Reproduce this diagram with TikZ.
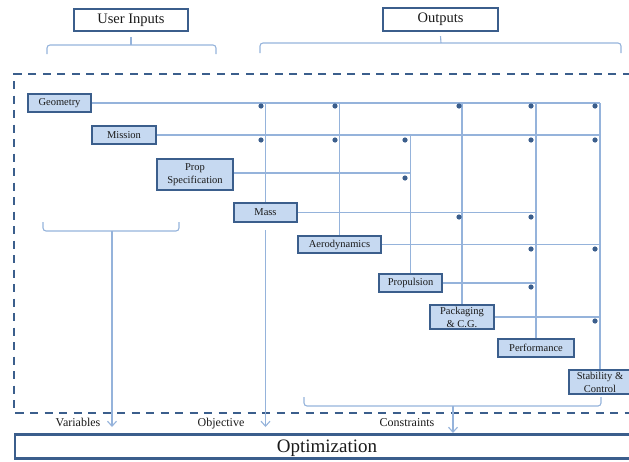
\documentclass[tikz,border=0pt]{standalone}
\usepackage{fontspec}
\setmainfont{Liberation Serif}
\usetikzlibrary{arrows.meta}
\definecolor{bdr}{HTML}{3B5E8C}
\definecolor{fillc}{HTML}{C6D9F1}
\definecolor{lnc}{HTML}{95B3DB}
\definecolor{dotc}{HTML}{3B5E8C}
\definecolor{txt}{HTML}{1A1A1A}
\begin{document}
\begin{tikzpicture}[x=1pt,y=-1pt,
  blk/.style={draw=bdr, fill=fillc, line width=2.1pt, inner sep=0pt, align=center, text=txt, font=\fontsize{10.5}{13}\selectfont},
  ttl/.style={draw=bdr, fill=white, line width=2.1pt, inner sep=0pt, text=txt, font=\fontsize{14.5}{16}\selectfont},
  conn/.style={draw=lnc, line width=1.1pt},
  brk/.style={draw=lnc, line width=1.1pt, rounded corners=3pt},
  arr/.style={conn, -{Straight Barb[length=5pt,width=9pt]}},
  lbl/.style={text=txt, font=\fontsize{12}{14}\selectfont, inner sep=0pt, anchor=base},
  dashbox/.style={draw=bdr, line width=2pt, dash pattern=on 8pt off 6.5pt}]
\useasboundingbox (0,0) rectangle (629,461);
\clip (0,0) rectangle (629,461);

% title boxes
\node[ttl, minimum width=114pt, minimum height=22pt] (ui) at (131,20) {User Inputs};
\node[ttl, minimum width=115pt, minimum height=23pt] (out) at (440.5,19.5) {Outputs};

% top brackets
\draw[brk] (47,54) -- (47,45) -- (216,45) -- (216,54);
\coordinate (uib) at (131,45);
\draw[conn] (uib) -- ([yshift=-5pt]ui.south);
\draw[brk] (260,53) -- (260,43) -- (621,43) -- (621,53);
\coordinate (outb) at (441,43);
\draw[conn] (outb) -- ([yshift=-4pt]out.south);

% dashed frame
\draw[dashbox] (645,74) -- (14,74) -- (14,413) -- (645,413);

% discipline boxes
\node[blk, minimum width=63pt, minimum height=18pt] (geo) at (59.5,103) {Geometry};
\node[blk, minimum width=64pt, minimum height=18pt] (mis) at (124,135) {Mission};
\node[blk, minimum width=76pt, minimum height=31pt] (prop) at (195,174.5) {Prop\\Specification};
\node[blk, minimum width=63pt, minimum height=19pt] (mass) at (265.5,212.5) {Mass};
\node[blk, minimum width=83pt, minimum height=17pt] (aero) at (339.5,244.5) {Aerodynamics};
\node[blk, minimum width=63pt, minimum height=18pt] (propu) at (410.5,283) {Propulsion};
\node[blk, minimum width=64pt, minimum height=24pt] (pack) at (462,317) {Packaging\\\& C.G.};
\node[blk, minimum width=76pt, minimum height=18pt] (perf) at (536,348) {Performance};
\node[blk, minimum width=62pt, minimum height=24pt] (stab) at (600,382) {Stability \&\\Control};

% rows
\draw[conn] (geo.east) -- (geo.east -| stab.north);
\draw[conn] (mis.east) -- (mis.east -| stab.north);
\draw[conn] ([yshift=1.5pt]prop.east) -- ([yshift=1.5pt]prop.east -| propu.north);
\draw[conn] (mass.east) -- (mass.east -| perf.north);
\draw[conn] (aero.east) -- (aero.east -| stab.north);
\draw[conn] (propu.east) -- (propu.east -| perf.north);
\draw[conn] (pack.east) -- (pack.east -| stab.north);

% columns
\draw[conn] (mass.north) -- (mass.north |- geo.east);
\draw[conn] (aero.north) -- (aero.north |- geo.east);
\draw[conn] (propu.north) -- (propu.north |- mis.east);
\draw[conn] (pack.north) -- (pack.north |- geo.east);
\draw[conn] (perf.north) -- (perf.north |- geo.east);
\draw[conn] (stab.north) -- (stab.north |- geo.east);

% dots
\foreach \p in {(261,106),(335,106),(459,106),(531,106),(595,106),
                (261,140),(335,140),(405,140),(531,140),(595,140),
                (405,178),(459,217),(531,217),(531,249),(595,249),
                (531,287),(595,321)}
  \fill[dotc] \p circle (2.6pt);

% optimization box
\node[draw=bdr, line width=2.1pt, minimum width=624pt, minimum height=24pt, inner sep=0pt, text=txt, font=\fontsize{19}{21}\selectfont, text depth=0pt] (opt) at (327,446.5) {Optimization};

% bottom brackets and arrows
\draw[brk] (43,222) -- (43,231) -- (179,231) -- (179,222);
\coordinate (varb) at (112,231);
\coordinate (vart) at (112,427);
\draw[arr] (varb) -- (vart);

\coordinate (objt) at (266,427);
\draw[arr] ([yshift=-7pt]mass.south) -- (mass.south |- objt);

\draw[brk] (304,397) -- (304,406) -- (601,406) -- (601,397);
\coordinate (conb) at (453,406);
\coordinate (cont) at (453,433);
\draw[arr] (conb) -- (cont);

\node[lbl] (lvar) at (78,426) {Variables};
\node[lbl] (lobj) at (221,426) {Objective};
\node[lbl] (lcon) at (407,426) {Constraints};
\end{tikzpicture}
\end{document}
